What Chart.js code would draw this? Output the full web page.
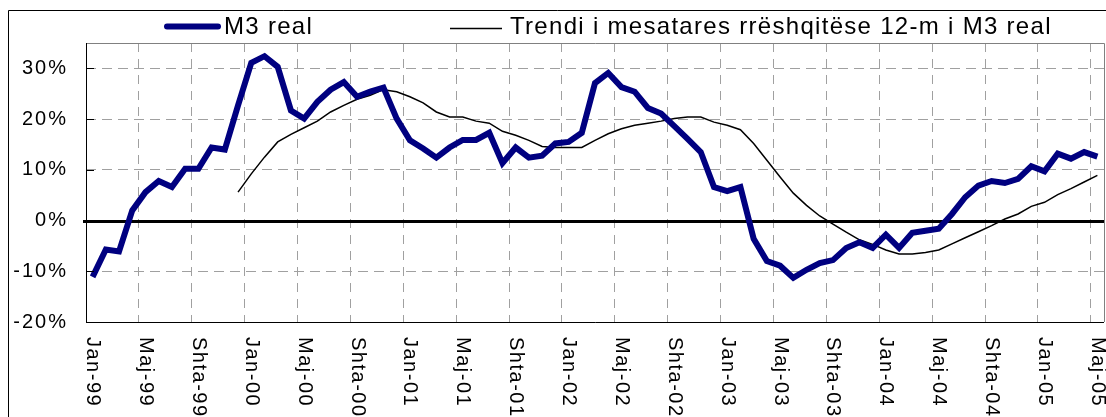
<!DOCTYPE html>
<html>
<head>
<meta charset="utf-8">
<script src="https://cdn.jsdelivr.net/npm/chart.js@4.4.1/dist/chart.umd.min.js"></script>
<style>
  html, body { margin: 0; padding: 0; background: #ffffff; }
  canvas { display: block; }
</style>
</head>
<body>
<canvas id="c" width="1106" height="417"></canvas>
<script>
const categories = [
  'Jan-99','Shk-99','Mar-99','Pri-99','Maj-99','Qer-99','Kor-99','Gus-99','Shta-99','Tet-99','Nën-99','Dhj-99',
  'Jan-00','Shk-00','Mar-00','Pri-00','Maj-00','Qer-00','Kor-00','Gus-00','Shta-00','Tet-00','Nën-00','Dhj-00',
  'Jan-01','Shk-01','Mar-01','Pri-01','Maj-01','Qer-01','Kor-01','Gus-01','Shta-01','Tet-01','Nën-01','Dhj-01',
  'Jan-02','Shk-02','Mar-02','Pri-02','Maj-02','Qer-02','Kor-02','Gus-02','Shta-02','Tet-02','Nën-02','Dhj-02',
  'Jan-03','Shk-03','Mar-03','Pri-03','Maj-03','Qer-03','Kor-03','Gus-03','Shta-03','Tet-03','Nën-03','Dhj-03',
  'Jan-04','Shk-04','Mar-04','Pri-04','Maj-04','Qer-04','Kor-04','Gus-04','Shta-04','Tet-04','Nën-04','Dhj-04',
  'Jan-05','Shk-05','Mar-05','Pri-05','Maj-05'
];

const m3Real = [
  -11.1, -5.7, -6.1, 2.0, 5.6, 7.8, 6.6, 10.2, 10.2, 14.4, 14.0, 22.7,
  31.1, 32.4, 30.3, 21.7, 20.1, 23.4, 25.8, 27.3, 24.4, 25.4, 26.2, 20.1,
  15.8, 14.2, 12.4, 14.4, 15.9, 15.9, 17.3, 11.3, 14.4, 12.4, 12.8, 15.2,
  15.5, 17.3, 27.1, 29.1, 26.3, 25.4, 22.2, 21.1, 18.6, 16.1, 13.5, 6.6,
  5.8, 6.6, -3.6, -8.0, -8.9, -11.3, -9.7, -8.4, -7.8, -5.4, -4.3, -5.4,
  -2.8, -5.4, -2.4, -2.0, -1.6, 1.3, 4.6, 6.9, 7.8, 7.4, 8.2, 10.7,
  9.7, 13.2, 12.2, 13.5, 12.6
];

const trend12m = [
  null, null, null, null, null, null, null, null, null, null, null, 5.6,
  9.2, 12.5, 15.5, 17.0, 18.3, 19.6, 21.4, 22.7, 23.9, 24.7, 25.8, 25.4,
  24.4, 23.2, 21.4, 20.4, 20.4, 19.6, 19.2, 17.6, 16.8, 15.8, 14.6, 14.4,
  14.4, 14.4, 15.8, 17.1, 18.1, 18.8, 19.2, 19.6, 20.1, 20.4, 20.4, 19.4,
  18.8, 17.9, 15.2, 11.9, 8.6, 5.4, 3.0, 0.9, -0.7, -2.3, -3.8, -4.7,
  -5.8, -6.6, -6.6, -6.3, -5.8, -4.6, -3.4, -2.2, -1.0, 0.3, 1.3, 2.8,
  3.6, 5.1, 6.3, 7.6, 8.9
];

const xTickLabels = ['Jan-99','Maj-99','Shta-99','Jan-00','Maj-00','Shta-00','Jan-01','Maj-01','Shta-01',
  'Jan-02','Maj-02','Shta-02','Jan-03','Maj-03','Shta-03','Jan-04','Maj-04','Shta-04','Jan-05','Maj-05'];
const yTickValues = [-20, -10, 0, 10, 20, 30];

const seriesNames = ['M3 real', 'Trendi i mesatares rrëshqitëse 12-m i M3 real'];

const FONT = '"Liberation Sans", Arial, sans-serif';
const GRID = '#a0a0a0';

const decor = {
  id: 'decor',
  beforeDraw(chart) {
    chart.ctx.letterSpacing = '2px';
  },
  beforeDatasetsDraw(chart) {
    const ctx = chart.ctx, a = chart.chartArea, y = chart.scales.y;
    ctx.save();
    ctx.letterSpacing = '0px';
    const y0 = Math.round(y.getPixelForValue(0)) + 0.5;
    ctx.strokeStyle = '#000';
    ctx.lineWidth = 3;
    ctx.beginPath();
    ctx.moveTo(a.left - 3, y0);
    ctx.lineTo(a.right, y0);
    ctx.stroke();
    ctx.restore();
  },
  afterDraw(chart) {
    const ctx = chart.ctx, a = chart.chartArea, xs = chart.scales.x, ys = chart.scales.y;
    ctx.save();
    // plot area border
    ctx.lineWidth = 1;
    ctx.strokeStyle = '#808080';
    ctx.beginPath();
    ctx.moveTo(a.left, Math.round(a.top) + 0.5);
    ctx.lineTo(a.right + 0.5, Math.round(a.top) + 0.5);
    ctx.lineTo(a.right + 0.5, a.bottom);
    ctx.stroke();
    ctx.strokeStyle = '#000';
    ctx.beginPath();
    ctx.moveTo(a.left + 0.5, a.top);
    ctx.lineTo(a.left + 0.5, Math.round(a.bottom) + 0.5);
    ctx.lineTo(a.right, Math.round(a.bottom) + 0.5);
    ctx.stroke();
    // y tick marks (inside)
    ctx.beginPath();
    yTickValues.forEach(v => {
      const py = Math.round(ys.getPixelForValue(v)) + 0.5;
      ctx.moveTo(a.left, py);
      ctx.lineTo(a.left + 8, py);
    });
    ctx.stroke();
    // outer border
    ctx.strokeStyle = '#000';
    ctx.beginPath();
    ctx.rect(8.5, 10.5, 1200, 500);
    ctx.stroke();

    // x tick labels, rotated clockwise
    ctx.fillStyle = '#000';
    ctx.font = '20px ' + FONT;
    ctx.letterSpacing = '1.5px';
    ctx.textAlign = 'left';
    ctx.textBaseline = 'middle';
    xTickLabels.forEach(lbl => {
      const idx = categories.indexOf(lbl);
      const px = xs.getPixelForValue(idx);
      ctx.save();
      ctx.translate(px, a.bottom + 15);
      ctx.rotate(Math.PI / 2);
      ctx.fillText(lbl, 0, 0);
      ctx.restore();
    });

    // legend
    ctx.lineCap = 'round';
    ctx.strokeStyle = '#000080';
    ctx.lineWidth = 6;
    ctx.beginPath();
    ctx.moveTo(167, 26.5);
    ctx.lineTo(218, 26.5);
    ctx.stroke();
    ctx.lineCap = 'butt';
    ctx.strokeStyle = '#000';
    ctx.lineWidth = 1.5;
    ctx.beginPath();
    ctx.moveTo(450, 28.5);
    ctx.lineTo(502, 28.5);
    ctx.stroke();
    ctx.font = '24px ' + FONT;
    ctx.letterSpacing = '1.3px';
    ctx.textBaseline = 'middle';
    ctx.fillText(seriesNames[0], 224, 27);
    ctx.fillText(seriesNames[1], 510, 27);
    ctx.restore();
    ctx.letterSpacing = '0px';
  }
};

new Chart(document.getElementById('c'), {
  type: 'line',
  data: {
    labels: categories,
    datasets: [
      {
        label: seriesNames[0],
        data: m3Real,
        borderColor: '#000080',
        backgroundColor: '#000080',
        borderWidth: 6,
        pointRadius: 0,
        tension: 0,
        fill: false
      },
      {
        label: seriesNames[1],
        data: trend12m,
        borderColor: '#000000',
        backgroundColor: '#000000',
        borderWidth: 1.5,
        pointRadius: 0,
        tension: 0,
        fill: false
      }
    ]
  },
  options: {
    responsive: false,
    devicePixelRatio: 1,
    animation: false,
    layout: { padding: { top: 43, right: 2, left: 0, bottom: 0 } },
    plugins: { legend: { display: false }, tooltip: { enabled: false } },
    scales: {
      x: {
        type: 'category',
        offset: true,
        grid: {
          offset: true,
          drawTicks: false,
          lineWidth: 1,
          color: c => (c.index > 0 && c.index < categories.length && c.index % 4 === 0) ? GRID : 'rgba(0,0,0,0)'
        },
        border: { display: false, dash: [9, 7] },
        ticks: { display: false },
        afterFit: s => { s.height = 95; }
      },
      y: {
        min: -20,
        max: 35,
        afterBuildTicks: s => { s.ticks = yTickValues.map(v => ({ value: v })); },
        ticks: {
          stepSize: 10,
          padding: 18,
          color: '#000',
          font: { family: FONT, size: 20 },
          callback: v => v + '%'
        },
        grid: {
          drawTicks: false,
          lineWidth: 1,
          color: c => (c.tick && c.tick.value === 0) ? 'rgba(0,0,0,0)' : GRID
        },
        border: { display: false, dash: [10, 6] },
        afterFit: s => { s.width = 86; }
      }
    }
  },
  plugins: [decor]
});
</script>
</body>
</html>
